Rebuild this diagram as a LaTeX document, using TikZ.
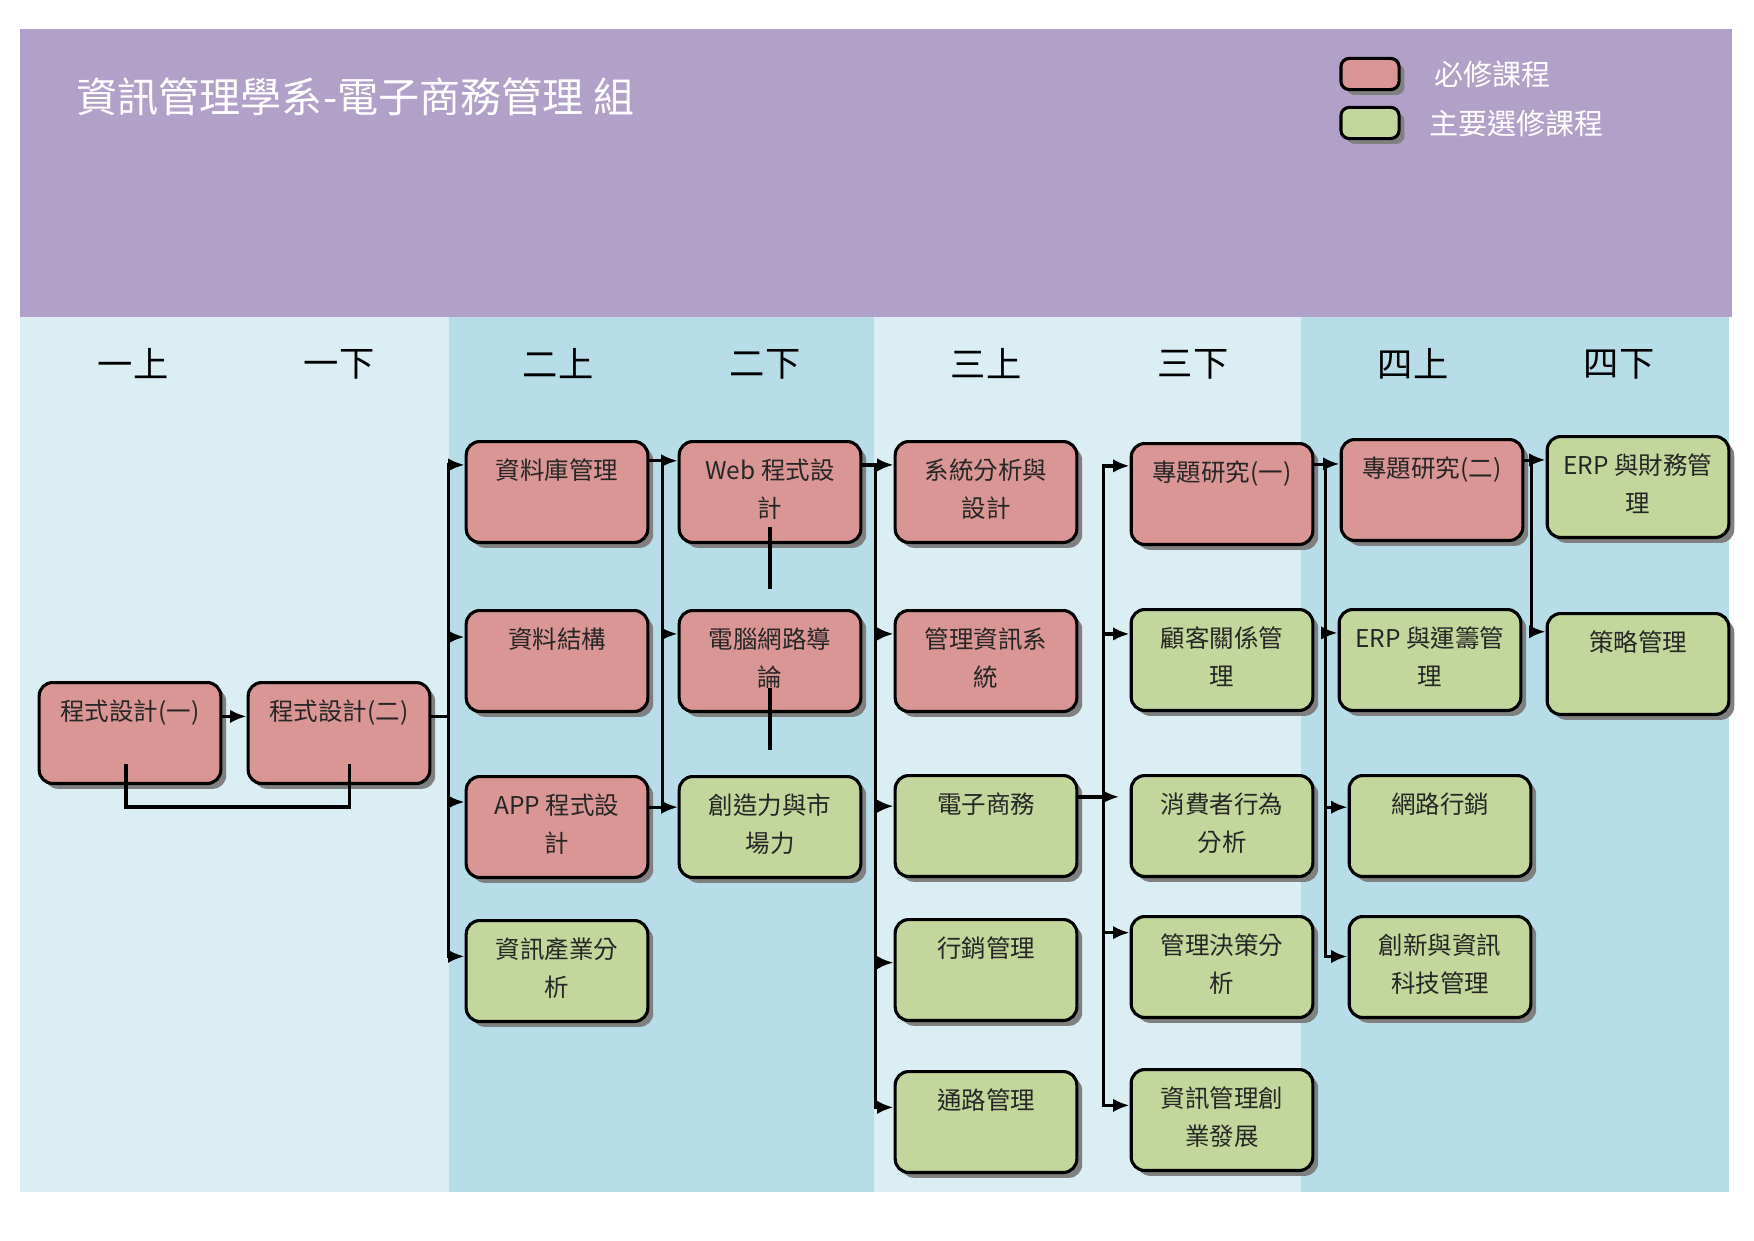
\documentclass[tikz,border=0pt]{standalone}
\usepackage{fontspec}
\setmainfont{Noto Sans CJK TC}
\usepackage{tikz}
\usetikzlibrary{shadows, arrows.meta, positioning, calc}

\definecolor{banner}{HTML}{B1A0C7}
\definecolor{bandlight}{HTML}{DBEEF4}
\definecolor{banddark}{HTML}{B7DEE8}
\definecolor{reqred}{HTML}{D99694}
\definecolor{elecgreen}{HTML}{C3D69B}

\newcommand{\course}[1]{\parbox[c][48.6pt][t]{87.5pt}{\centering\rule{0pt}{18.5pt}#1}}

\begin{document}
\begin{tikzpicture}[
    x=0.4817pt, y=-0.4817pt,
    box/.style={rectangle, rounded corners=6.5pt, draw, line width=1.5pt, inner sep=0pt,
        font=\fontsize{11.8pt}{18.3pt}\selectfont, text=black!85,
        drop shadow={shadow xshift=2.6pt, shadow yshift=-2.6pt, fill=black!50, opacity=1}},
    req/.style={box, fill=reqred},
    elec/.style={box, fill=elecgreen},
    key/.style={box, rounded corners=4pt, minimum width=28pt, minimum height=15pt},
    keytext/.style={font=\fontsize{14pt}{16pt}\selectfont, text=white, inner sep=0pt},
    term/.style={font=\fontsize{17pt}{19pt}\selectfont},
    line/.style={line width=1.6pt},
    arrow/.style={-{Latex[length=8pt, width=6.5pt]}, line width=1.6pt}
]
\useasboundingbox (0,0) rectangle (1754,1240);
\fill[banner] (20,29) rectangle (1732,317);
\fill[bandlight] (20,317) rectangle (449,1192);
\fill[banddark] (449,317) rectangle (874,1192);
\fill[bandlight] (874,317) rectangle (1301,1192);
\fill[banddark] (1301,317) rectangle (1729,1192);

\node[anchor=west, text=white, font=\fontsize{19.8pt}{22pt}\selectfont, inner sep=0pt] (title) at (76,97) {資訊管理學系-電子商務管理 組};

\node[key, fill=reqred] (keyreq) at (1370,74) {};
\node[key, fill=elecgreen] (keyelec) at (1370,123) {};
\node[keytext, right=16pt of keyreq] (keyreqtext) {必修課程};
\node[keytext, right=13.5pt of keyelec] (keyelectext) {主要選修課程};

\foreach \lbl/\x/\n in {一上/133/s1a, 一下/339/s1b, 二上/558/s2a, 二下/765/s2b, 三上/986/s3a, 三下/1193/s3b, 四上/1413/s4a, 四下/1619/s4b}
  \node[term] (\n) at (\x,364) {\lbl};

\node[req] (prog1) at (130,733) {\course{程式設計(一)}};
\node[req] (prog2) at (339,733) {\course{程式設計(二)}};
\node[req] (dbm) at (557,492) {\course{資料庫管理}};
\node[req] (ds) at (557,661) {\course{資料結構}};
\node[req] (app) at (557,827) {\course{APP 程式設\\計}};
\node[elec] (iia) at (557,971) {\course{資訊產業分\\析}};
\node[req] (web) at (770,492) {\course{Web 程式設\\計}};
\node[req] (net) at (770,661) {\course{電腦網路導\\論}};
\node[elec] (crea) at (770,827) {\course{創造力與市\\場力}};
\node[req] (sad) at (986,492) {\course{系統分析與\\設計}};
\node[req] (mis) at (986,661) {\course{管理資訊系\\統}};
\node[elec] (ecom) at (986,826) {\course{電子商務}};
\node[elec] (mktm) at (986,970) {\course{行銷管理}};
\node[elec] (chan) at (986,1122) {\course{通路管理}};
\node[req] (proj1) at (1222,494) {\course{專題研究(一)}};
\node[elec] (crm) at (1222,660) {\course{顧客關係管\\理}};
\node[elec] (cons) at (1222,826) {\course{消費者行為\\分析}};
\node[elec] (dec) at (1222,967) {\course{管理決策分\\析}};
\node[elec] (ent) at (1222,1120) {\course{資訊管理創\\業發展}};
\node[req] (proj2) at (1432,490) {\course{專題研究(二)}};
\node[elec] (erpo) at (1430,660) {\course{ERP 與運籌管\\理}};
\node[elec] (emkt) at (1440,826) {\course{網路行銷}};
\node[elec] (inno) at (1440,967) {\course{創新與資訊\\科技管理}};
\node[elec] (erpf) at (1638,487) {\course{ERP 與財務管\\理}};
\node[elec] (strat) at (1638,664) {\course{策略管理}};

\draw[arrow] ([yshift=8pt]prog1.east) -- ([yshift=8pt]prog2.west);
\draw[line] ([shift={(-2pt,-15pt)}]prog1.center) -- ++(0,43) -| ([shift={(5pt,-15pt)}]prog2.center);

\draw[line] ([yshift=8pt]prog2.east) -- ++(17,0) coordinate (t3);
\foreach \n/\d in {dbm/12pt, ds/13.5pt, app/13pt, iia/18pt}
  \draw[arrow] (t3) |- ([yshift=-\d]\n.north west);

\draw[line] ([yshift=-10pt]dbm.north east) -- ++(13,0) coordinate (t4);
\foreach \n/\d in {web/10pt, net/12pt, crea/15.5pt}
  \draw[arrow] (t4) |- ([yshift=-\d]\n.north west);
\draw[arrow] ([yshift=-15.5pt]app.north east) -- ([yshift=-15.5pt]crea.north west);
\draw[line] ([yshift=8pt]web.south) -- ([yshift=9.5pt]net.north);
\draw[line] ([yshift=12pt]net.south) -- ([yshift=12pt]crea.north);

\draw[line] ([yshift=-12pt]web.north east) -- ++(13,0) coordinate (t5);
\foreach \n/\d in {sad/12pt, mis/12pt, ecom/15.5pt, mktm/21.5pt, chan/18pt}
  \draw[arrow] (t5) |- ([yshift=-\d]\n.north west);

\draw[arrow] ([yshift=-11pt]ecom.north east) -- ++(25,0) coordinate (t6) -- ([shift={(-5pt,-11pt)}]cons.north west);
\foreach \n/\d in {proj1/11.5pt, crm/12.5pt, dec/8.5pt, ent/18pt}
  \draw[arrow] (t6) |- ([yshift=-\d]\n.north west);

\draw[line] ([yshift=-11pt]proj1.north east) -- ++(11,0) coordinate (t7);
\foreach \n/\d in {proj2/12.5pt, erpo/12pt, emkt/16pt, inno/20pt}
  \draw[arrow] (t7) |- ([yshift=-\d]\n.north west);

\draw[line] ([yshift=-11pt]proj2.north east) -- ++(7,0) coordinate (t8);
\foreach \n/\d in {erpf/12pt, strat/9.5pt}
  \draw[arrow] (t8) |- ([yshift=-\d]\n.north west);
\end{tikzpicture}
\end{document}
